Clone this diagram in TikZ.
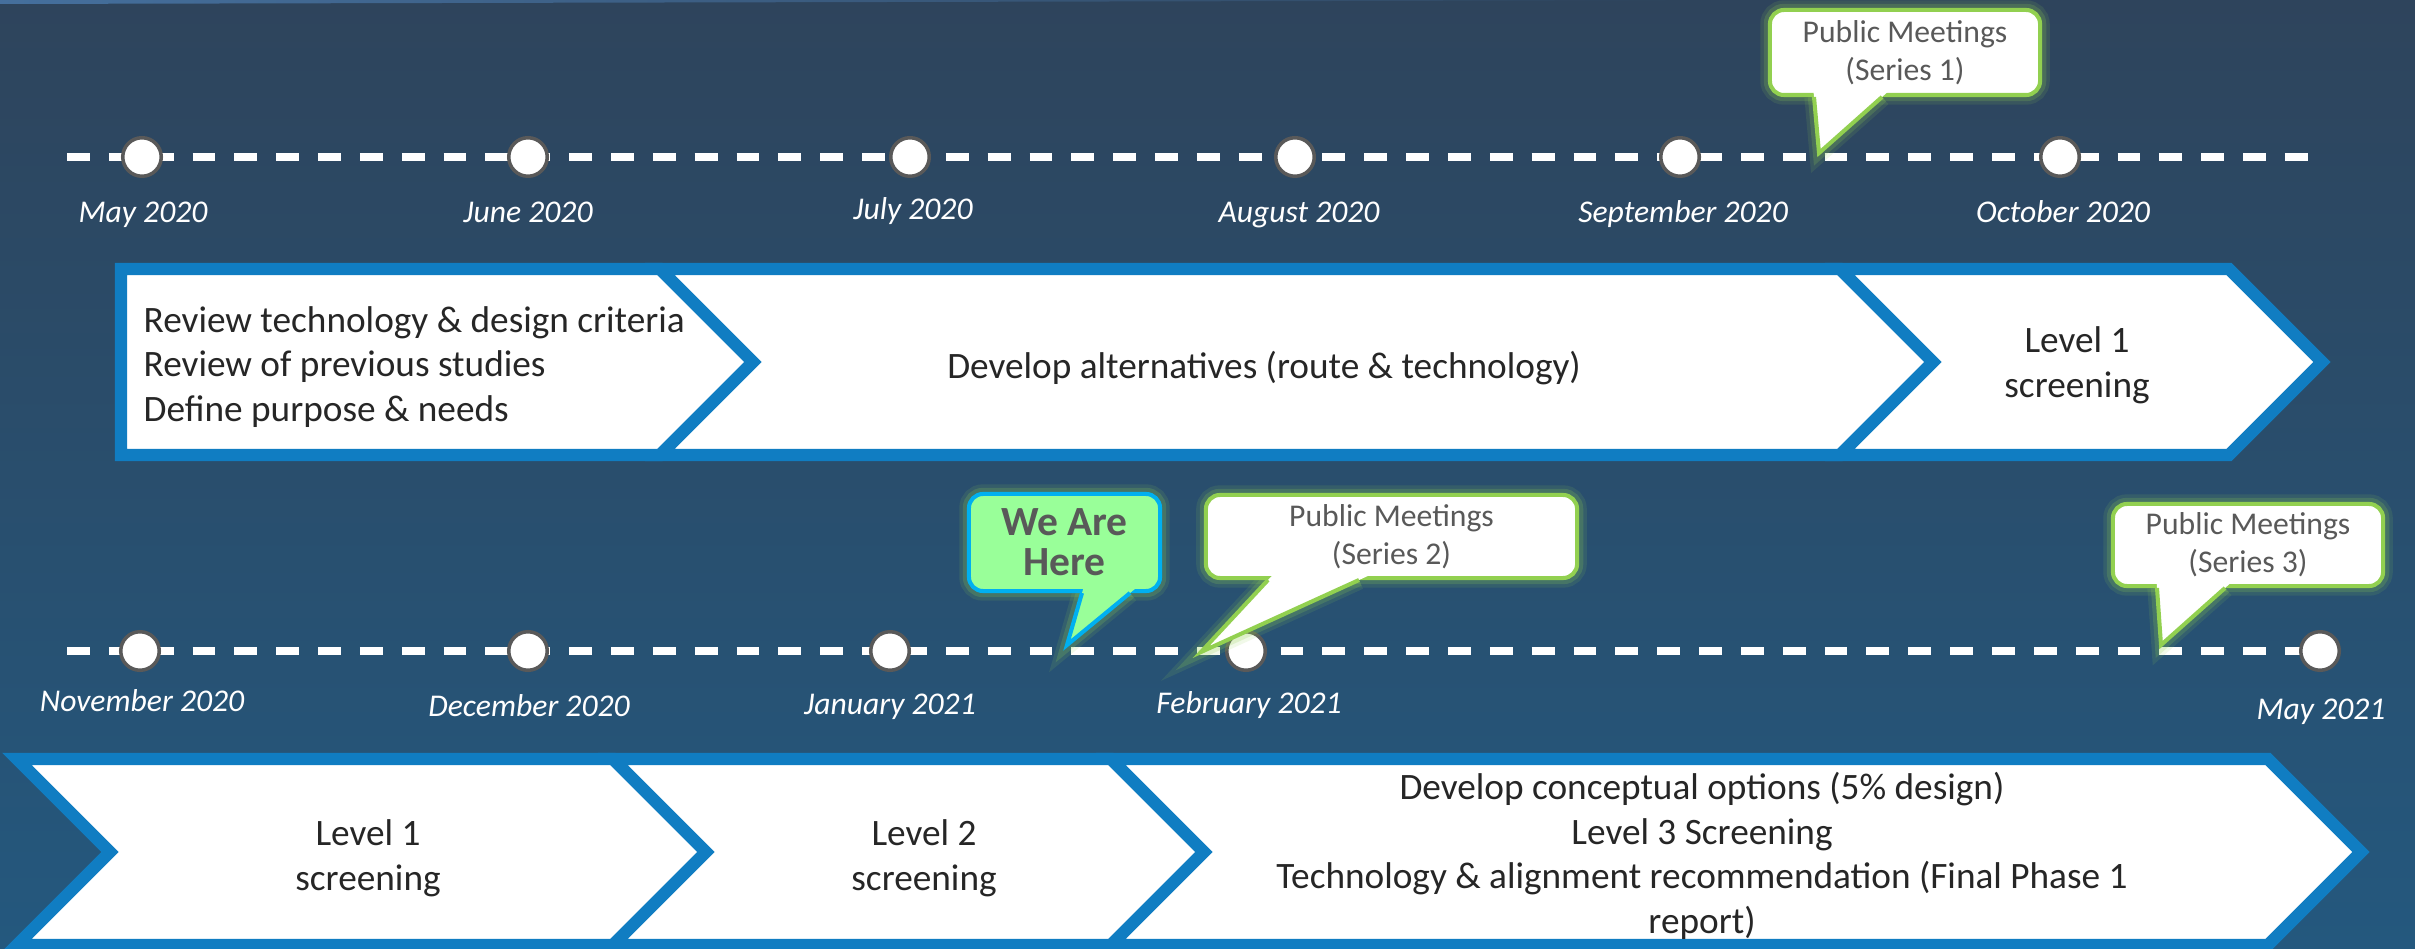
\documentclass[tikz,border=0pt]{standalone}
\usepackage{fontspec}
\setmainfont{Carlito}
\usetikzlibrary{calc}

\definecolor{bgtop}{RGB}{46,68,92}
\definecolor{bgbottom}{RGB}{36,88,126}
\definecolor{stripblue}{RGB}{84,140,200}
\definecolor{stageblue}{RGB}{16,125,194}
\definecolor{meetgreen}{RGB}{146,208,80}
\definecolor{herefill}{RGB}{153,255,153}
\definecolor{herecyan}{RGB}{0,176,240}
\definecolor{labelgray}{RGB}{89,89,89}
\definecolor{stageink}{RGB}{38,38,38}

\tikzset{
  month/.style={circle, draw=labelgray, line width=1pt, fill=white, minimum size=0.385cm, inner sep=0pt},
  date/.style={anchor=base, text=white, font=\fontsize{9}{11}\selectfont\itshape},
  timeline/.style={white, line width=2pt, dash pattern=on 6.5pt off 5.4pt},
  stage/.style={draw=stageblue, fill=white, line width=3.5pt, line join=miter},
  stagelabel/.style={text=stageink, font=\fontsize{10.6}{12.7}\selectfont, align=center, inner sep=0pt},
  glow/.style={preaction={draw=meetgreen, line width=5.5pt, opacity=0.12},
               preaction={draw=meetgreen, line width=3.5pt, opacity=0.2}},
  meeting/.style={rectangle, rounded corners=4pt, draw=meetgreen, fill=white, line width=1.15pt,
                  text=labelgray, align=center, font=\fontsize{9}{10.8}\selectfont, inner sep=0pt, glow},
  meetingtail/.style={draw=meetgreen, line width=1.15pt, line join=miter, line cap=square},
  here/.style={meeting, draw=herecyan, fill=herefill, font=\fontsize{11.8}{11.4}\selectfont\bfseries},
}

\begin{document}
\begin{tikzpicture}[x=0.01cm, y=-0.01cm]
\useasboundingbox (0,0) rectangle (2415,949);
\clip (0,0) rectangle (2415,949);
\shade[top color=bgtop, bottom color=bgbottom] (0,0) rectangle (2415,949);
\shade[left color=bgtop!40!stripblue, middle color=stripblue, right color=bgtop] (0,0) -- (1780,0) -- (0,4) -- cycle;

% 2020 timeline
\coordinate (t1start) at (67,157);
\coordinate (t1end) at (2317,157);
\draw[timeline] (t1start) -- (t1end);
\node[month] (may20) at (142,157) {};
\node[month] (jun20) at (528,157) {};
\node[month] (jul20) at (910,157) {};
\node[month] (aug20) at (1295,157) {};
\node[month] (sep20) at (1680,157) {};
\node[month] (oct20) at (2060,157) {};
\node[date] (lmay20) at (143,223) {May 2020};
\node[date] (ljun20) at (528,223) {June 2020};
\node[date] (ljul20) at (913,220) {July 2020};
\node[date] (laug20) at (1299,223) {August 2020};
\node[date] (lsep20) at (1683,223) {September 2020};
\node[date] (loct20) at (2063,223) {October 2020};

% 2021 timeline
\coordinate (t2start) at (67,651);
\coordinate (t2end) at (2320,651);
\draw[timeline] (t2start) -- (t2end);
\node[month] (nov20) at (140,651) {};
\node[month] (dec20) at (528,651) {};
\node[month] (jan21) at (890,651) {};
\node[month] (feb21) at (1246,651) {};
\node[month] (may21) at (2320,651) {};
\node[date] (lnov20) at (142,711) {November 2020};
\node[date] (ldec20) at (529,716) {December 2020};
\node[date] (ljan21) at (890,714) {January 2021};
\node[date] (lfeb21) at (1249,713) {February 2021};
\node[date] (lmay21) at (2321,719) {May 2021};

% stages, first row
\draw[stage] (121,269) -- (660,269) -- (753,362) -- (660,455) -- (121,455) -- cycle;
\draw[stage] (660,269) -- (1840,269) -- (1933,362) -- (1840,455) -- (660,455) -- (753,362) -- cycle;
\draw[stage] (1840,269) -- (2229,269) -- (2322,362) -- (2229,455) -- (1840,455) -- (1933,362) -- cycle;
\node[stagelabel, align=left, anchor=west] (review) at (143,367)
  {Review technology \& design criteria\\Review of previous studies\\Define purpose \& needs};
\node[stagelabel] (develop) at (1264,368) {Develop alternatives (route \& technology)};
\node[stagelabel] (levelone) at (2077,365) {Level 1\\screening};

% stages, second row
\draw[stage] (17,759) -- (613,759) -- (706,852) -- (613,945) -- (17,945) -- (110,852) -- cycle;
\draw[stage] (613,759) -- (1111,759) -- (1204,852) -- (1111,945) -- (613,945) -- (706,852) -- cycle;
\draw[stage] (1111,759) -- (2268,759) -- (2361,852) -- (2268,945) -- (1111,945) -- (1204,852) -- cycle;
\node[stagelabel] (leveltwoa) at (368,858) {Level 1\\screening};
\node[stagelabel] (leveltwob) at (924,858) {Level 2\\screening};
\node[stagelabel] (options) at (1702,856)
  {Develop conceptual options (5\% design)\\Level 3 Screening\\Technology \& alignment recommendation (Final Phase 1\\report)};

% callouts
\coordinate (meet1a) at (1814,97);
\coordinate (meet1b) at (1882,97);
\coordinate (meet1tip) at (1819,153);
\path[glow] (meet1a) -- (meet1tip) -- (meet1b);
\node[meeting, minimum width=2.7cm, minimum height=0.85cm] (meet1) at (1905,52.5) {Public Meetings\\(Series 1)};
\fill[white] ($(meet1a)!-0.1!(meet1tip)$) -- (meet1tip) -- ($(meet1b)!-0.1!(meet1tip)$) -- cycle;
\draw[meetingtail] (meet1a) -- (meet1tip) -- (meet1b);

\coordinate (herea) at (1082,593);
\coordinate (hereb) at (1130,593);
\coordinate (heretip) at (1067,645);
\path[glow] (herea) -- (heretip) -- (hereb);
\node[here, minimum width=1.91cm, minimum height=0.97cm] (here) at (1064.5,542.5) {We Are\\Here};
\fill[herefill] ($(herea)!-0.1!(heretip)$) -- (heretip) -- ($(hereb)!-0.1!(heretip)$) -- cycle;
\draw[meetingtail, draw=herecyan] (herea) -- (heretip) -- (hereb);

\coordinate (meet2a) at (1268,580);
\coordinate (meet2b) at (1359,580);
\coordinate (meet2tip) at (1201,652);
\path[glow] (meet2a) -- (meet2tip) -- (meet2b);
\node[meeting, minimum width=3.71cm, minimum height=0.83cm] (meet2) at (1391.5,536.5) {Public Meetings\\(Series 2)};
\fill[white] ($(meet2a)!-0.1!(meet2tip)$) -- (meet2tip) -- ($(meet2b)!-0.1!(meet2tip)$) -- cycle;
\draw[meetingtail] (meet2a) -- (meet2tip) -- (meet2b);

\coordinate (meet3a) at (2157,588);
\coordinate (meet3b) at (2225,588);
\coordinate (meet3tip) at (2161,645);
\path[glow] (meet3a) -- (meet3tip) -- (meet3b);
\node[meeting, minimum width=2.7cm, minimum height=0.82cm] (meet3) at (2248,545) {Public Meetings\\(Series 3)};
\fill[white] ($(meet3a)!-0.1!(meet3tip)$) -- (meet3tip) -- ($(meet3b)!-0.1!(meet3tip)$) -- cycle;
\draw[meetingtail] (meet3a) -- (meet3tip) -- (meet3b);
\end{tikzpicture}
\end{document}
